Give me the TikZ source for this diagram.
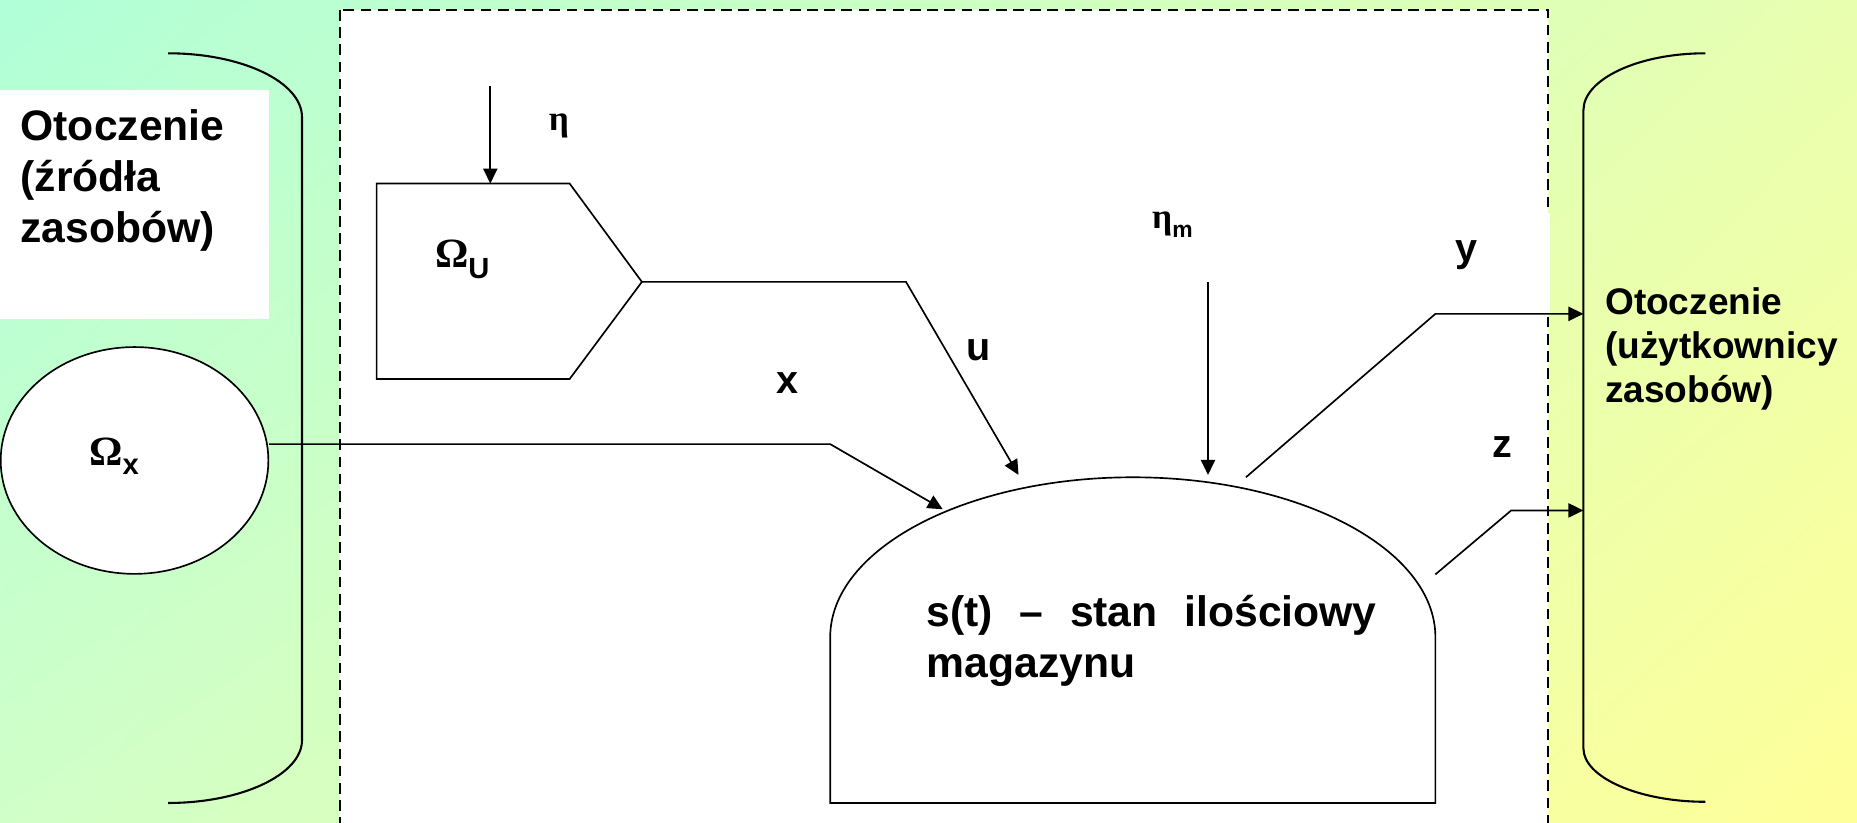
\documentclass[tikz,border=0pt]{standalone}
\usepackage{fontspec}
\setmainfont{Liberation Sans}
\newfontfamily\grkfont{Liberation Serif}
\usetikzlibrary{arrows.meta,shapes.geometric,shadings}

\definecolor{bgtl}{RGB}{176,255,216}
\definecolor{bgtr}{RGB}{232,255,176}
\definecolor{bgbl}{RGB}{208,255,200}
\definecolor{bgbr}{RGB}{255,255,153}

\newcommand{\lowsub}[3]{\raisebox{-#1}{\fontsize{#2}{#2}\selectfont #3}}

\begin{document}
\begin{tikzpicture}[x=0.2mm,y=-0.2mm,
    line/.style={draw=black,line width=0.8pt},
    flow/.style={line,-{Triangle[length=7.2pt,width=6.8pt]}},
    brk/.style={draw=black,line width=1pt},
    lbl/.style={inner sep=0pt,anchor=base west,font=\bfseries\fontsize{19}{19}\selectfont},
    env/.style={inner sep=0pt,anchor=base west,align=left,font=\bfseries\fontsize{20.5}{24.5}\selectfont}]

    % background
    \shade[upper left=bgtl,upper right=bgtr,lower left=bgbl,lower right=bgbr] (0,0) rectangle (1568,694.1);
    \useasboundingbox (0,0) rectangle (1568,694.1);

    % system boundary
    \filldraw[fill=white,draw=black,line width=0.6pt,dash pattern=on 1.8mm off 1.1mm] (287,8.5) rectangle (1307,720);
    \fill[white] (1303,180) rectangle (1308.5,265);

    % environment (sources)
    \fill[white] (0,76) rectangle (227,269);
    \node[env] (srcenv) at (17,205) {Otoczenie\\(źródła\\zasobów)};
    \draw[brk] (142,45) .. controls (204,45) and (255,69) .. (255,99) -- (255,625)
        .. controls (255,654) and (204,678) .. (142,678);
    \node[ellipse,draw,fill=white,line width=0.8pt,minimum width=45.2mm,minimum height=38.3mm,inner sep=0pt] (omx) at (113.6,388.8) {};
    \node[lbl] (lomx) at (75,393) {{\grkfont\fontsize{20}{20}\selectfont Ω}\lowsub{4.5pt}{14}{x}};

    % environment (users)
    \draw[brk] (1440,45) .. controls (1383,45) and (1337,67) .. (1337,93) -- (1337,632)
        .. controls (1337,656) and (1383,677) .. (1440,677);
    \node[env,font=\bfseries\fontsize{17.8}{21.3}\selectfont] (useenv) at (1355,340) {Otoczenie\\(użytkownicy\\zasobów)};

    % control block
    \draw[line] (318,155) coordinate (uTL) -- (481,155) -- (542,238) coordinate (uP)
        -- (481,320) -- (318,320) -- cycle;
    \node[lbl] (lomu) at (367,226) {{\grkfont\fontsize{20}{20}\selectfont Ω}\lowsub{5pt}{14}{U}};
    \coordinate (etaS) at (414,73);
    \draw[flow] (etaS) -- (etaS |- uTL);
    \node[lbl] (leta) at (463,110) {{\grkfont\fontsize{17}{17}\selectfont η}};

    % store
    \draw[line] (701,678) -- (701,538) .. controls (701,463.5) and (815.5,403) .. (956.5,403)
        .. controls (1097.5,403) and (1212,463.5) .. (1212,538) -- (1212,678) -- cycle;
    \node[env,text width=76mm,align=justify] (stan) at (782,529) {s(t)\hfill –\hfill stan\hfill ilościowy\\magazynu};

    % flows
    \coordinate (xbend) at (701,375);
    \coordinate (xend) at (796,430);
    \draw[flow] (omx.east |- xbend) -- (xbend) -- (xend);
    \node[lbl] (lx) at (655,332) {x};

    \coordinate (ubend) at (765,238);
    \coordinate (uend) at (860,401);
    \draw[flow] (uP) -- (ubend) -- (uend);
    \node[lbl] (lu) at (816,304) {u};

    \coordinate (etamS) at (1020,238);
    \coordinate (etamE) at (1020,401);
    \draw[flow] (etamS) -- (etamE);
    \node[lbl] (letam) at (972.5,193) {{\grkfont\fontsize{17}{17}\selectfont η}\lowsub{4.5pt}{11}{m}};

    \coordinate (yS) at (1052,403);
    \coordinate (ybend) at (1212,265);
    \coordinate (yE) at (1337,265);
    \draw[flow] (yS) -- (ybend) -- (yE);
    \node[lbl] (ly) at (1229,221) {y};

    \coordinate (zS) at (1212,485);
    \coordinate (zbend) at (1276,431);
    \coordinate (zE) at (1337,431);
    \draw[flow] (zS) -- (zbend) -- (zE);
    \node[lbl] (lz) at (1260,386) {z};
\end{tikzpicture}
\end{document}
